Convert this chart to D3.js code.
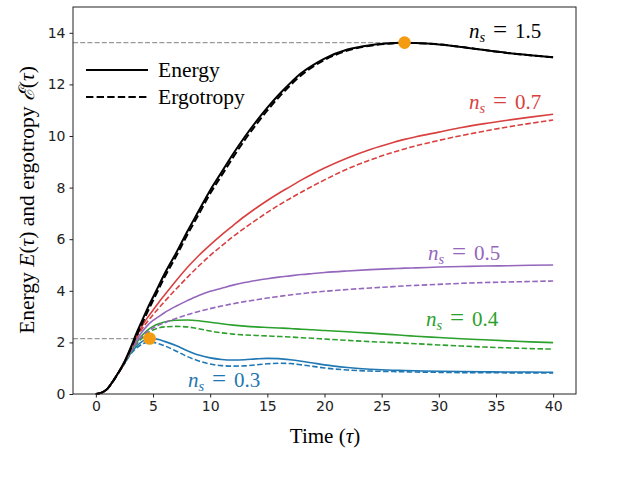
<!DOCTYPE html>
<html>
<head>
<meta charset="utf-8">
<script src="https://cdn.jsdelivr.net/npm/d3@7"></script>
<style>
  body { margin: 0; background: #fff; }
  svg { display: block; }
  .tick text { font-family: "DejaVu Sans", sans-serif; font-size: 14px; fill: #222; }
  .serif { font-family: "Liberation Serif", "DejaVu Serif", serif; }
</style>
</head>
<body>
<svg id="chart"></svg>
<script>
// time grid shared by every curve
var times = [0,0.5,1,1.5,2,2.5,3,3.5,4,4.5,5,5.5,6,7,8,9,10,11,12,13,14,15,16,17,18,19,20,22,24,26,27,28,30,32,34,36,38,40];

// n_s = 1.5
var energy15 = [0,0.05,0.2,0.5,0.85,1.25,1.75,2.3,2.8,3.3,3.75,4.2,4.65,5.45,6.3,7.1,7.9,8.6,9.3,9.95,10.55,11.1,11.6,12.05,12.45,12.75,13.0,13.35,13.52,13.6,13.62,13.6,13.55,13.45,13.33,13.22,13.13,13.05];
var ergo15   = [0,0.05,0.2,0.49,0.83,1.22,1.7,2.2,2.68,3.17,3.62,4.07,4.52,5.32,6.17,6.97,7.77,8.47,9.17,9.83,10.43,10.99,11.5,11.96,12.37,12.69,12.95,13.31,13.5,13.59,13.61,13.6,13.55,13.45,13.33,13.22,13.13,13.05];
// n_s = 0.7
var energy07 = [0,0.05,0.2,0.5,0.85,1.23,1.7,2.2,2.6,2.95,3.25,3.55,3.83,4.38,4.9,5.37,5.78,6.17,6.53,6.88,7.2,7.5,7.78,8.04,8.3,8.54,8.76,9.15,9.48,9.75,9.87,9.97,10.15,10.33,10.48,10.61,10.73,10.84];
var ergo07   = [0,0.05,0.2,0.5,0.85,1.22,1.68,2.15,2.5,2.8,3.07,3.33,3.58,4.06,4.52,4.96,5.37,5.74,6.1,6.43,6.74,7.04,7.32,7.58,7.83,8.07,8.3,8.72,9.07,9.37,9.5,9.62,9.83,10.02,10.19,10.35,10.49,10.62];
// n_s = 0.5
var energy05 = [0,0.05,0.2,0.5,0.85,1.22,1.65,2.05,2.38,2.65,2.85,3.0,3.15,3.4,3.62,3.82,3.98,4.1,4.22,4.32,4.4,4.47,4.53,4.58,4.63,4.67,4.71,4.77,4.82,4.86,4.88,4.89,4.92,4.94,4.96,4.97,4.99,5.0];
var ergo05   = [0,0.05,0.2,0.5,0.85,1.2,1.6,1.95,2.22,2.42,2.56,2.67,2.76,2.93,3.07,3.2,3.31,3.41,3.5,3.58,3.65,3.72,3.78,3.84,3.89,3.94,3.98,4.05,4.11,4.16,4.19,4.21,4.25,4.29,4.32,4.34,4.36,4.38];
// n_s = 0.4
var energy04 = [0,0.05,0.2,0.5,0.85,1.2,1.6,1.95,2.25,2.47,2.62,2.72,2.79,2.86,2.87,2.84,2.78,2.72,2.67,2.63,2.6,2.58,2.56,2.54,2.51,2.49,2.46,2.41,2.36,2.3,2.27,2.24,2.19,2.14,2.1,2.06,2.02,1.99];
var ergo04   = [0,0.05,0.2,0.5,0.85,1.19,1.58,1.9,2.15,2.35,2.48,2.56,2.6,2.62,2.6,2.53,2.44,2.37,2.32,2.29,2.27,2.25,2.23,2.21,2.18,2.16,2.13,2.08,2.03,1.99,1.97,1.95,1.9,1.86,1.82,1.79,1.76,1.74];
// n_s = 0.3
var energy03 = [0,0.05,0.2,0.5,0.85,1.18,1.55,1.82,2.02,2.13,2.15,2.11,2.04,1.88,1.68,1.51,1.4,1.34,1.32,1.33,1.36,1.38,1.37,1.33,1.27,1.2,1.13,1.03,0.96,0.92,0.91,0.9,0.88,0.87,0.86,0.85,0.85,0.84];
var ergo03   = [0,0.05,0.2,0.5,0.85,1.17,1.52,1.76,1.92,2.0,2.0,1.95,1.87,1.67,1.45,1.28,1.16,1.1,1.08,1.09,1.13,1.17,1.19,1.18,1.13,1.07,1.01,0.93,0.89,0.87,0.86,0.85,0.84,0.83,0.83,0.82,0.82,0.82];

var seriesNames = ["1.5","0.7","0.5","0.4","0.3"];
var seriesColors = ["#000000","#d94040","#9467bd","#2ca02c","#1f77b4"];
var energyList = [energy15, energy07, energy05, energy04, energy03];
var ergoList = [ergo15, ergo07, ergo05, ergo04, ergo03];

// maxima marked with dots and guide lines
var maxTimes = [27, 4.7];
var maxValues = [13.62, 2.15];

var xTicks = [0,5,10,15,20,25,30,35,40];
var yTicks = [0,2,4,6,8,10,12,14];

var width = 619, height = 478;
var svg = d3.select("#chart").attr("width", width).attr("height", height);

var x = d3.scaleLinear().domain([-2, 42]).range([73, 576]);
var y = d3.scaleLinear().domain([0, 15]).range([394, 7]);

var line = d3.line()
  .x(function(d){ return x(d[0]); })
  .y(function(d){ return y(d[1]); })
  .curve(d3.curveMonotoneX);

// guide lines
maxTimes.forEach(function(t, i){
  svg.append("line")
    .attr("x1", x(-2)).attr("x2", x(t))
    .attr("y1", y(maxValues[i])).attr("y2", y(maxValues[i]))
    .attr("stroke", "#999").attr("stroke-width", 1.2)
    .attr("stroke-dasharray", "5,2.2");
});

// curves, colored first, black on top
for (var i = energyList.length - 1; i >= 0; i--) {
  var lw = i == 0 ? 2 : 1.6;
  var e = times.map(function(t, j){ return [t, energyList[i][j]]; });
  var g = times.map(function(t, j){ return [t, ergoList[i][j]]; });
  svg.append("path").attr("d", line(g))
    .attr("fill", "none").attr("stroke", seriesColors[i])
    .attr("stroke-width", lw)
    .attr("stroke-dasharray", i == 0 ? "7.4,3.2" : "5.5,2.4");
  svg.append("path").attr("d", line(e))
    .attr("fill", "none").attr("stroke", seriesColors[i])
    .attr("stroke-width", lw);
}

// maximum dots
maxTimes.forEach(function(t, i){
  svg.append("circle")
    .attr("cx", x(t)).attr("cy", y(maxValues[i]))
    .attr("r", 6.3).attr("fill", "#f39c12");
});

// axes
svg.append("g").attr("transform", "translate(0,394)")
  .call(d3.axisBottom(x).tickValues(xTicks).tickSize(3.5).tickPadding(4))
  .call(function(g){ g.select(".domain").remove(); g.selectAll("line").attr("stroke","#222"); });
svg.append("g").attr("transform", "translate(73,0)")
  .call(d3.axisLeft(y).tickValues(yTicks).tickSize(3.5).tickPadding(4))
  .call(function(g){ g.select(".domain").remove(); g.selectAll("line").attr("stroke","#222"); });

svg.append("rect")
  .attr("x", 73).attr("y", 7).attr("width", 503).attr("height", 387)
  .attr("fill", "none").attr("stroke", "#222").attr("stroke-width", 1);

// legend
var legendLabels = ["Energy", "Ergotropy"];
legendLabels.forEach(function(lab, i){
  var ly = 70 + i * 27;
  svg.append("line").attr("x1", 86).attr("x2", 148).attr("y1", ly).attr("y2", ly)
    .attr("stroke", "#000").attr("stroke-width", 2)
    .attr("stroke-dasharray", i == 1 ? "7.4,3.2" : null);
  svg.append("text").attr("class", "serif")
    .attr("x", 158).attr("y", ly + 7)
    .attr("font-size", 21.5).text(lab);
});

// n_s labels
var labelPos = [[469, 38], [469, 109], [428, 260], [426, 326], [188, 387]];
seriesNames.forEach(function(n, i){
  var x0 = labelPos[i][0], y0 = labelPos[i][1];
  var g = svg.append("g").attr("class", "serif").attr("fill", seriesColors[i]);
  g.append("text").attr("x", x0).attr("y", y0).attr("font-size", 21)
    .attr("font-style", "italic").text("n");
  g.append("text").attr("x", x0 + 10.5).attr("y", y0 + 4).attr("font-size", 14.5)
    .attr("font-style", "italic").text("s");
  g.append("text").attr("x", x0 + 24).attr("y", y0).attr("font-size", 25).text("=");
  g.append("text").attr("x", x0 + 46).attr("y", y0).attr("font-size", 21).text(n);
});

// axis titles
svg.append("text").attr("class", "serif")
  .attr("x", 325).attr("y", 443).attr("text-anchor", "middle")
  .attr("font-size", 21)
  .call(function(t){
    t.append("tspan").text("Time (");
    t.append("tspan").attr("font-style", "italic").text("τ");
    t.append("tspan").text(")");
  });

svg.append("text").attr("class", "serif")
  .attr("transform", "translate(34,200) rotate(-90)")
  .attr("text-anchor", "middle").attr("font-size", 21.5)
  .call(function(t){
    t.append("tspan").text("Energy ");
    t.append("tspan").attr("font-style", "italic").text("E");
    t.append("tspan").text("(");
    t.append("tspan").attr("font-style", "italic").text("τ");
    t.append("tspan").text(") and ergotropy ");
    t.append("tspan").attr("font-style", "italic").text("ℰ");
    t.append("tspan").text("(");
    t.append("tspan").attr("font-style", "italic").text("τ");
    t.append("tspan").text(")");
  });
</script>
</body>
</html>
